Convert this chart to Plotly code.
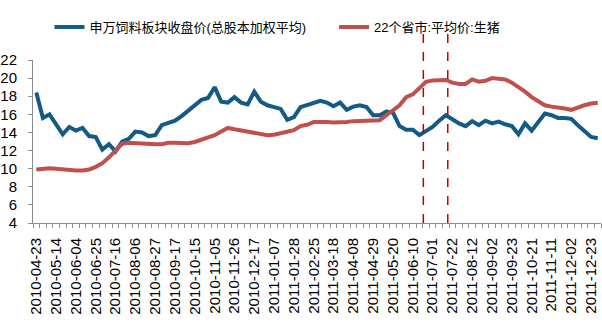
import plotly.graph_objects as go

dates = [
    "2010-04-23", "2010-04-30", "2010-05-07", "2010-05-14", "2010-05-21", "2010-05-28",
    "2010-06-04", "2010-06-11", "2010-06-18", "2010-06-25", "2010-07-02", "2010-07-09",
    "2010-07-16", "2010-07-23", "2010-07-30", "2010-08-06", "2010-08-13", "2010-08-20",
    "2010-08-27", "2010-09-03", "2010-09-10", "2010-09-17", "2010-09-21", "2010-10-08",
    "2010-10-15", "2010-10-22", "2010-10-29", "2010-11-05", "2010-11-12", "2010-11-19",
    "2010-11-26", "2010-12-03", "2010-12-10", "2010-12-17", "2010-12-24", "2010-12-31",
    "2011-01-07", "2011-01-14", "2011-01-21", "2011-01-28", "2011-02-11", "2011-02-18",
    "2011-02-25", "2011-03-04", "2011-03-11", "2011-03-18", "2011-03-25", "2011-04-01",
    "2011-04-08", "2011-04-15", "2011-04-22", "2011-04-29", "2011-05-06", "2011-05-13",
    "2011-05-20", "2011-05-27", "2011-06-03", "2011-06-10", "2011-06-17", "2011-06-24",
    "2011-07-01", "2011-07-08", "2011-07-15", "2011-07-22", "2011-07-29", "2011-08-05",
    "2011-08-12", "2011-08-19", "2011-08-26", "2011-09-02", "2011-09-09", "2011-09-16",
    "2011-09-23", "2011-09-30", "2011-10-14", "2011-10-21", "2011-10-28", "2011-11-04",
    "2011-11-11", "2011-11-18", "2011-11-25", "2011-12-02", "2011-12-09", "2011-12-16",
    "2011-12-23", "2011-12-30",
]

feed_index = [
    18.4, 15.6, 16.0, 14.8, 13.8, 14.6, 14.2, 14.5, 13.6, 13.5,
    12.1, 12.7, 11.9, 13.0, 13.3, 14.1, 14.0, 13.6, 13.7, 14.8,
    15.0, 15.3, 15.8, 16.4, 17.1, 17.6, 17.8, 19.0, 17.4, 17.3,
    17.9, 17.3, 17.1, 18.5, 17.4, 17.0, 16.8, 16.6, 15.4, 15.7,
    16.8, 17.0, 17.3, 17.5, 17.3, 16.9, 17.3, 16.5, 16.85, 17.0,
    16.8, 15.9, 15.9, 16.3, 16.2, 14.7, 14.3, 14.3, 13.7, 14.15,
    14.6, 15.3, 15.9, 15.45, 15.0, 14.7, 15.25, 14.8, 15.3, 15.0,
    15.2, 14.9, 14.7, 13.8, 15.0, 14.2, 15.1, 16.1, 15.9, 15.6,
    15.6, 15.5, 14.8, 14.1, 13.5, 13.35,
]

hog_price = [
    9.9, 10.0, 10.05, 10.0, 9.9, 9.85, 9.8, 9.8, 9.9, 10.2,
    10.6, 11.25, 11.95, 12.75, 12.85, 12.8, 12.7, 12.7, 12.7, 12.7,
    12.85, 12.85, 12.8, 12.8, 12.95, 13.2, 13.5, 13.7, 14.1, 14.5,
    14.35, 14.2, 14.1, 14.0, 13.85, 13.7, 13.75, 13.9, 14.0, 14.25,
    14.7, 14.85, 15.15, 15.2, 15.15, 15.1, 15.1, 15.15, 15.25, 15.25,
    15.25, 15.25, 15.35, 15.9, 16.5, 17.0, 17.9, 18.2, 18.9, 19.6,
    19.75, 19.8, 19.8, 19.5, 19.35, 19.35, 19.85, 19.6, 19.7, 20.0,
    19.95, 19.85, 19.5, 19.05, 18.5, 17.9, 17.5, 17.0, 16.85, 16.8,
    16.65, 16.5, 16.8, 17.0, 17.2, 17.28,
]

series_names = ["申万饲料板块收盘价(总股本加权平均)", "22个省市:平均价:生猪"]
series_colors = ["#135A86", "#C0504D"]
# positions (in category-index units) of the two dashed marker lines
event_marks = [58.6, 62.3]

FONT = "Liberation Sans, Arial, Noto Sans CJK SC, sans-serif"
AXIS_COLOR = "#8C8C8C"
LEGEND_FONT = dict(size=13, family="Liberation Sans, Noto Sans CJK SC", color="#000000")

fig = go.Figure()
fig.add_trace(go.Scatter(
    x=dates, y=feed_index, mode="lines", name=series_names[0],
    line=dict(color=series_colors[0], width=4), legend="legend",
))
fig.add_trace(go.Scatter(
    x=dates, y=hog_price, mode="lines", name=series_names[1],
    line=dict(color=series_colors[1], width=4), legend="legend2",
))

for m in event_marks:
    fig.add_shape(type="line", xref="x2", yref="paper", x0=m, x1=m, y0=0, y1=1.2,
                  line=dict(color="#C00000", width=1.5, dash="dash"))

n = len(dates)
fig.update_layout(
    width=602, height=325,
    margin=dict(l=33, r=1, t=60, b=102),
    paper_bgcolor="white", plot_bgcolor="white",
    font=dict(family=FONT, size=15, color="#000000"),
    showlegend=True,
    legend=dict(x=0.029, y=1.202, xanchor="left", yanchor="middle",
                orientation="h", font=LEGEND_FONT,
                bgcolor="rgba(0,0,0,0)", itemwidth=30),
    legend2=dict(x=0.53, y=1.202, xanchor="left", yanchor="middle",
                 orientation="h", font=LEGEND_FONT,
                 bgcolor="rgba(0,0,0,0)", itemwidth=30),
    xaxis=dict(
        type="category", range=[-0.5, n - 0.5],
        tickmode="array", tickvals=dates[::3], ticktext=dates[::3],
        tickangle=-90, ticks="", showline=True, linecolor=AXIS_COLOR, linewidth=1,
        showgrid=False, zeroline=False, ticklabelstandoff=8,
        tickfont=dict(size=15),
    ),
    xaxis2=dict(
        type="linear", overlaying="x", anchor="y", side="bottom",
        range=[-0.5, n - 0.5], tick0=-0.5, dtick=1, ticks="outside",
        ticklen=4, tickcolor=AXIS_COLOR, showticklabels=False,
        showline=False, showgrid=False, zeroline=False,
    ),
    yaxis=dict(
        range=[4, 22], dtick=2, tick0=4, ticks="outside", ticklen=4,
        tickcolor=AXIS_COLOR, showline=True, linecolor=AXIS_COLOR, linewidth=1,
        showgrid=False, zeroline=False, ticklabelstandoff=8,
        tickfont=dict(size=15),
    ),
)

fig.write_html("out.html")
